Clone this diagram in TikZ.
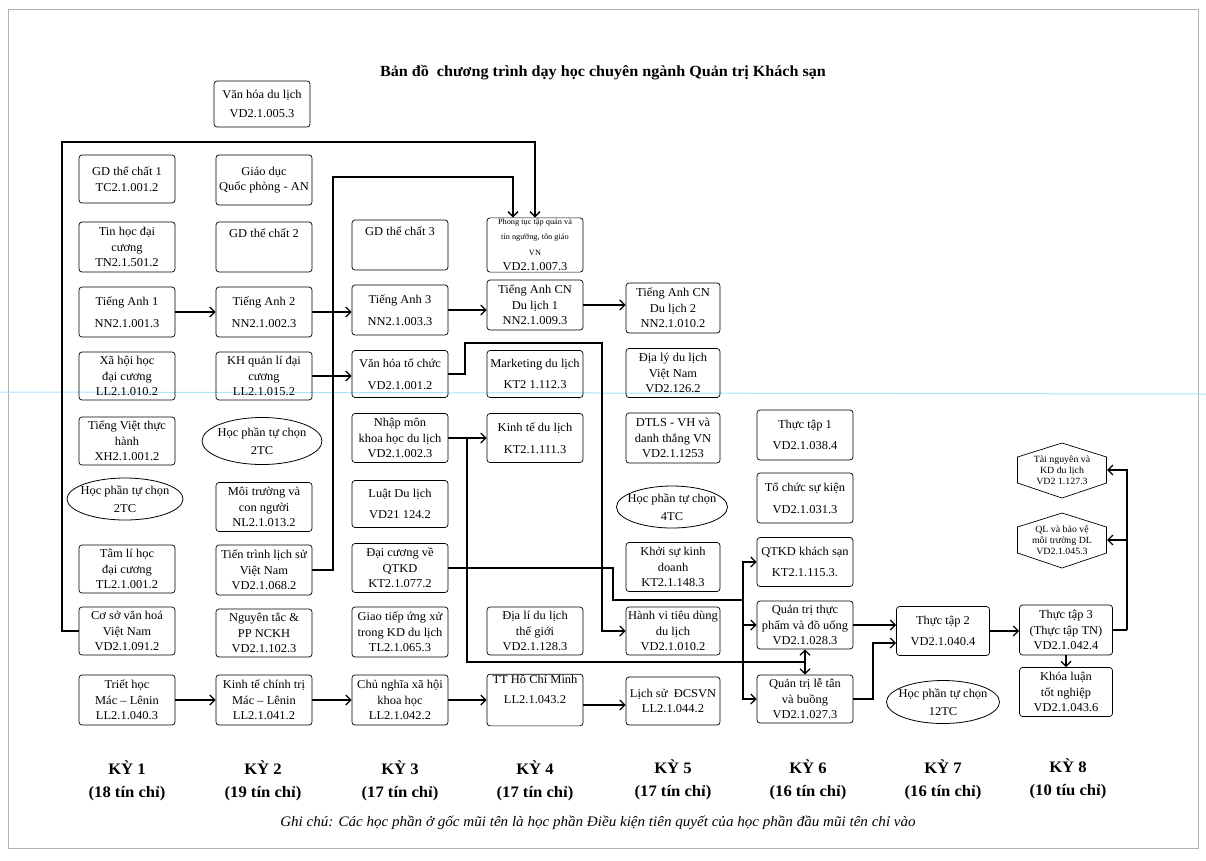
\documentclass[tikz,border=0pt]{standalone}
\usepackage{fontspec}
\setmainfont{Liberation Serif}[FakeStretch=1.04]
\usetikzlibrary{arrows.meta,shapes.geometric,calc}
\newcommand{\boxfont}{\fontsize{12}{15.5}\selectfont}
\newcommand{\smallboxfont}{\fontsize{9.5}{11}\selectfont}
\newcommand{\tinyboxfont}{\fontsize{8}{9}\selectfont}
\newcommand{\semfont}{\fontsize{16}{23}\selectfont\bfseries}
\begin{document}
\begin{tikzpicture}[x=1pt,y=-1pt,
  box/.style={draw, rounded corners=3pt, line width=0.7pt, minimum width=96pt, minimum height=48pt, inner sep=1pt, align=center, font=\boxfont},
  ell/.style={draw, ellipse, line width=0.8pt, minimum width=116pt, minimum height=42pt, inner sep=0pt},
  elltext/.style={align=center, font=\boxfont},
  hexline/.style={line width=0.7pt},
  wire/.style={line width=1.3pt},
  conn/.style={line width=1.3pt, -{Straight Barb[length=5pt,width=10pt]}},
  sem/.style={align=center, font=\semfont}]
\useasboundingbox (0,0) rectangle (1206,860);
\draw[gray!60, line width=0.6pt] (8,9) rectangle (1198,848);
\draw[cyan!35, line width=1pt] (0,392) -- (1206,394);

\node[font=\fontsize{15.5}{18}\selectfont\bfseries] (title) at (603,73) {Bản đồ\ \ chương trình dạy học chuyên ngành Quản trị Khách sạn};

% Column 1
\node[box] (gd1) at (127,179) {GD thể chất 1\\TC2.1.001.2};
\node[box,minimum height=50pt] (tinhoc) at (127,247) {Tin học đại\\cương\\TN2.1.501.2};
\node[box,minimum height=50pt] (ta1) at (127,312) {Tiếng Anh 1\\[6pt]NN2.1.001.3};
\node[box] (xhh) at (127,376) {Xã hội học\\đại cương\\LL2.1.010.2};
\node[box] (tv) at (127,441) {Tiếng Việt thực\\hành\\XH2.1.001.2};
\node[ell, label={[elltext]center:Học phần tự chọn\\[3pt]2TC}] (tc1) at (125,499) {};
\node[box] (tlh) at (127,569) {Tâm lí học\\đại cương\\TL2.1.001.2};
\node[box] (coso) at (127,631) {Cơ sở văn hoá\\Việt Nam\\VD2.1.091.2};
\node[box,minimum height=50pt] (triet) at (127,700) {Triết học\\Mác – Lênin\\LL2.1.040.3};

% Column 2
\node[box,minimum height=46pt] (vhdl) at (262,104) {Văn hóa du lịch\\[4pt]VD2.1.005.3};
\node[box,minimum height=50pt] (gdqp) at (264,180) {Giáo dục\\Quốc phòng - AN};
\node[box,minimum height=50pt] (gd2) at (264,247) {GD thể chất 2\\[12pt]};
\node[box,minimum height=50pt] (ta2) at (264,312) {Tiếng Anh 2\\[6pt]NN2.1.002.3};
\node[box] (khql) at (264,376) {KH quản lí đại\\cương\\LL2.1.015.2};
\node[ell,minimum width=120pt,minimum height=47pt, label={[elltext]center:Học phần tự chọn\\[3pt]2TC}] (tc2) at (262,441) {};
\node[box,minimum height=49pt] (mt) at (264,507) {Môi trường và\\con người\\NL2.1.013.2};
\node[box,minimum height=50pt] (tien) at (264,570) {Tiến trình lịch sử\\Việt Nam\\VD2.1.068.2};
\node[box] (ngt) at (264,633) {Nguyên tắc \&\\PP NCKH\\VD2.1.102.3};
\node[box,minimum height=50pt] (ktct) at (264,700) {Kinh tế chính trị\\Mác – Lênin\\LL2.1.041.2};

% Column 3
\node[box,minimum height=50pt] (gd3) at (400,245) {GD thể chất 3\\[12pt]};
\node[box,minimum height=50pt] (ta3) at (400,310) {Tiếng Anh 3\\[6pt]NN2.1.003.3};
\node[box,minimum height=47pt] (vhtc) at (400,374) {Văn hóa tổ chức\\[6pt]VD2.1.001.2};
\node[box,minimum height=49pt] (nhapmon) at (400,438) {Nhập môn\\khoa học du lịch\\VD2.1.002.3};
\node[box,minimum height=47pt] (luat) at (400,504) {Luật Du lịch\\[6pt]VD21 124.2};
\node[box,minimum height=49pt] (daicuong) at (400,568) {Đại cương về\\QTKD\\KT2.1.077.2};
\node[box,minimum height=50pt] (giaotiep) at (400,632) {Giao tiếp ứng xử\\trong KD du lịch\\TL2.1.065.3};
\node[box,minimum height=50pt] (cnxh) at (400,700) {Chủ nghĩa xã hội\\khoa học\\LL2.1.042.2};

% Column 4
\node[box,minimum height=50pt] (phong) at (535,245) {\tinyboxfont Phong tục tập quán và\\\tinyboxfont tín ngưỡng, tôn giáo\\\tinyboxfont VN\\\boxfont VD2.1.007.3};
\node[box,minimum height=50pt] (tacn1) at (535,305) {Tiếng Anh CN\\Du lịch 1\\NN2.1.009.3};
\node[box,minimum height=47pt] (mkt) at (535,374) {Marketing du lịch\\[6pt]KT2 1.112.3};
\node[box,minimum height=49pt] (kt) at (535,438) {Kinh tế du lịch\\[6pt]KT2.1.111.3};
\node[box] (dltg) at (535,631) {Địa lí du lịch\\thế giới\\VD2.1.128.3};
\node[box,minimum height=50pt] (tthcm) at (535,700) {TT Hồ Chí Minh\\[4pt]LL2.1.043.2\\[6pt]};

% Column 5
\node[box,minimum width=94pt,minimum height=50pt] (tacn2) at (673,308) {Tiếng Anh CN\\Du lịch 2\\NN2.1.010.2};
\node[box,minimum width=94pt,minimum height=49pt] (dlvn) at (673,373) {Địa lý du lịch\\Việt Nam\\VD2.126.2};
\node[box,minimum width=94pt,minimum height=50pt] (dtls) at (673,438) {DTLS - VH và\\danh thắng VN\\VD2.1.1253};
\node[ell,minimum width=111pt,minimum height=42pt, label={[elltext]center:Học phần tự chọn\\[3pt]4TC}] (tc4) at (672,507) {};
\node[box,minimum width=94pt,minimum height=49pt] (ksk) at (673,567) {Khởi sự kinh\\doanh\\KT2.1.148.3};
\node[box,minimum width=94pt] (hanhvi) at (673,631) {Hành vi tiêu dùng\\du lịch\\VD2.1.010.2};
\node[box,minimum width=94pt] (lsd) at (673,701) {Lịch sử\ \ ĐCSVN\\LL2.1.044.2};

% Column 6
\node[box,minimum height=50pt] (tt1) at (805,435) {Thực tập 1\\[6pt]VD2.1.038.4};
\node[box,minimum height=50pt] (tcsk) at (805,498) {Tổ chức sự kiện\\[6pt]VD2.1.031.3};
\node[box,minimum height=49pt] (qtkdks) at (805,562) {QTKD khách sạn\\[6pt]KT2.1.115.3.};
\node[box] (qttp) at (805,625) {Quản trị thực\\phẩm và đồ uống\\VD2.1.028.3};
\node[box] (qtlt) at (805,699) {Quản trị lễ tân\\và buồng\\VD2.1.027.3};

% Column 7
\node[box,minimum width=93pt,minimum height=49pt] (tt2) at (943,631) {Thực tập 2\\[6pt]VD2.1.040.4};
\node[ell,minimum width=113pt,minimum height=43pt, label={[elltext]center:Học phần tự chọn\\[3pt]12TC}] (tc12) at (943,702) {};

% Column 8
\node[align=center,font=\smallboxfont] (h1) at (1062,470) {Tài nguyên và\\KD du lịch\\VD2 1.127.3};
\node[align=center,font=\smallboxfont] (h2) at (1062,540) {QL và bảo vệ\\môi trường DL\\VD2.1.045.3};
\draw[hexline] ($(h1.center)+(-44.5,-13)$) -- ($(h1.center)+(0,-27)$) -- ($(h1.center)+(44.5,-13)$) -- ($(h1.center)+(44.5,13)$) -- ($(h1.center)+(0,28)$) -- ($(h1.center)+(-44.5,13)$) -- cycle;
\draw[hexline] ($(h2.center)+(-44.5,-13)$) -- ($(h2.center)+(0,-27)$) -- ($(h2.center)+(44.5,-13)$) -- ($(h2.center)+(44.5,13)$) -- ($(h2.center)+(0,28)$) -- ($(h2.center)+(-44.5,13)$) -- cycle;
\coordinate (h1e) at ($(h1.center)+(45,0)$);
\coordinate (h2e) at ($(h2.center)+(45,0)$);
\node[box,minimum width=93pt,minimum height=50pt] (tt3) at (1066,630) {Thực tập 3\\(Thực tập TN)\\VD2.1.042.4};
\node[box,minimum width=93pt,minimum height=49pt] (kl) at (1066,692) {Khóa luận\\tốt nghiệp\\VD2.1.043.6};

% Semester labels
\node[sem] (k1) at (127,781) {KỲ 1\\(18 tín chỉ)};
\node[sem] (k2) at (263,781) {KỲ 2\\(19 tín chỉ)};
\node[sem] (k3) at (400,781) {KỲ 3\\(17 tín chỉ)};
\node[sem] (k4) at (535,781) {KỲ 4\\(17 tín chỉ)};
\node[sem] (k5) at (673,780) {KỲ 5\\(17 tín chỉ)};
\node[sem] (k6) at (808,780) {KỲ 6\\(16 tín chỉ)};
\node[sem] (k7) at (943,780) {KỲ 7\\(16 tín chỉ)};
\node[sem] (k8) at (1068,779) {KỲ 8\\(10 tíu chỉ)};
\node[font=\fontsize{14.5}{16}\selectfont\itshape] (note) at (598,823) {Ghi chú: Các học phần ở gốc mũi tên là học phần Điều kiện tiên quyết của học phần đầu mũi tên chỉ vào};

% Waypoints
\coordinate (w1) at (333,177);
\coordinate (w2) at (62,142);
\coordinate (w3) at (465,343);
\coordinate (w4) at (602,343);
\coordinate (w5) at (467,662);
\coordinate (w6) at (805,662);
\coordinate (w7) at (613,600);
\coordinate (w8) at (743,600);
\coordinate (w9) at (873,643);
\coordinate (w10) at (1127,630);

% Straight chains
\draw[conn] (ta1.east) -- (ta1.east -| ta2.west);
\draw[conn] (ta2.east) -- (ta2.east -| ta3.west);
\draw[conn] (ta3.east) -- (ta3.east -| tacn1.west);
\draw[conn] (tacn1.east) -- (tacn1.east -| tacn2.west);
\draw[conn] (khql.east) -- (khql.east -| vhtc.west);
\draw[conn] (nhapmon.east) -- (nhapmon.east -| kt.west);
\draw[conn] (triet.east) -- (triet.east -| ktct.west);
\draw[conn] (ktct.east) -- (ktct.east -| cnxh.west);
\draw[conn] (cnxh.east) -- (cnxh.east -| tthcm.west);
\draw[conn] ([yshift=-5pt]tthcm.east) -- ([yshift=-5pt]tthcm.east -| lsd.west);
\draw[conn] (qttp.east) -- (qttp.east -| tt2.west);
\draw[conn] (tt2.east) -- (tt2.east -| tt3.west);
\draw[conn] (tt3.south) -- (kl.north);

% Routed connectors
\draw[conn] (tien.east) -| (w1) -| ([xshift=-22pt]phong.north);
\draw[conn] (coso.west) -| (w2) -| (phong.north);
\draw[conn] (vhtc.east) -| (w3) -- (w4) |- (hanhvi.west);
\draw[wire] (nhapmon.east) -| (w5) -- (w6);
\draw[conn] (w6) -- (qttp.south);
\draw[conn] (w6) -- (qtlt.north);
\draw[wire] (daicuong.east) -| (w7) -- (w8);
\draw[conn] (w8) |- (qtkdks.west);
\draw[conn] (w8) |- (qttp.west);
\draw[conn] (w8) |- (qtlt.west);
\draw[conn] (qtlt.east) -| (w9) -- (w9 -| tt2.west);
\draw[wire] (tt3.east) -- (w10);
\draw[conn] (w10) |- (h1e);
\draw[conn] (w10) |- (h2e);
\end{tikzpicture}
\end{document}
